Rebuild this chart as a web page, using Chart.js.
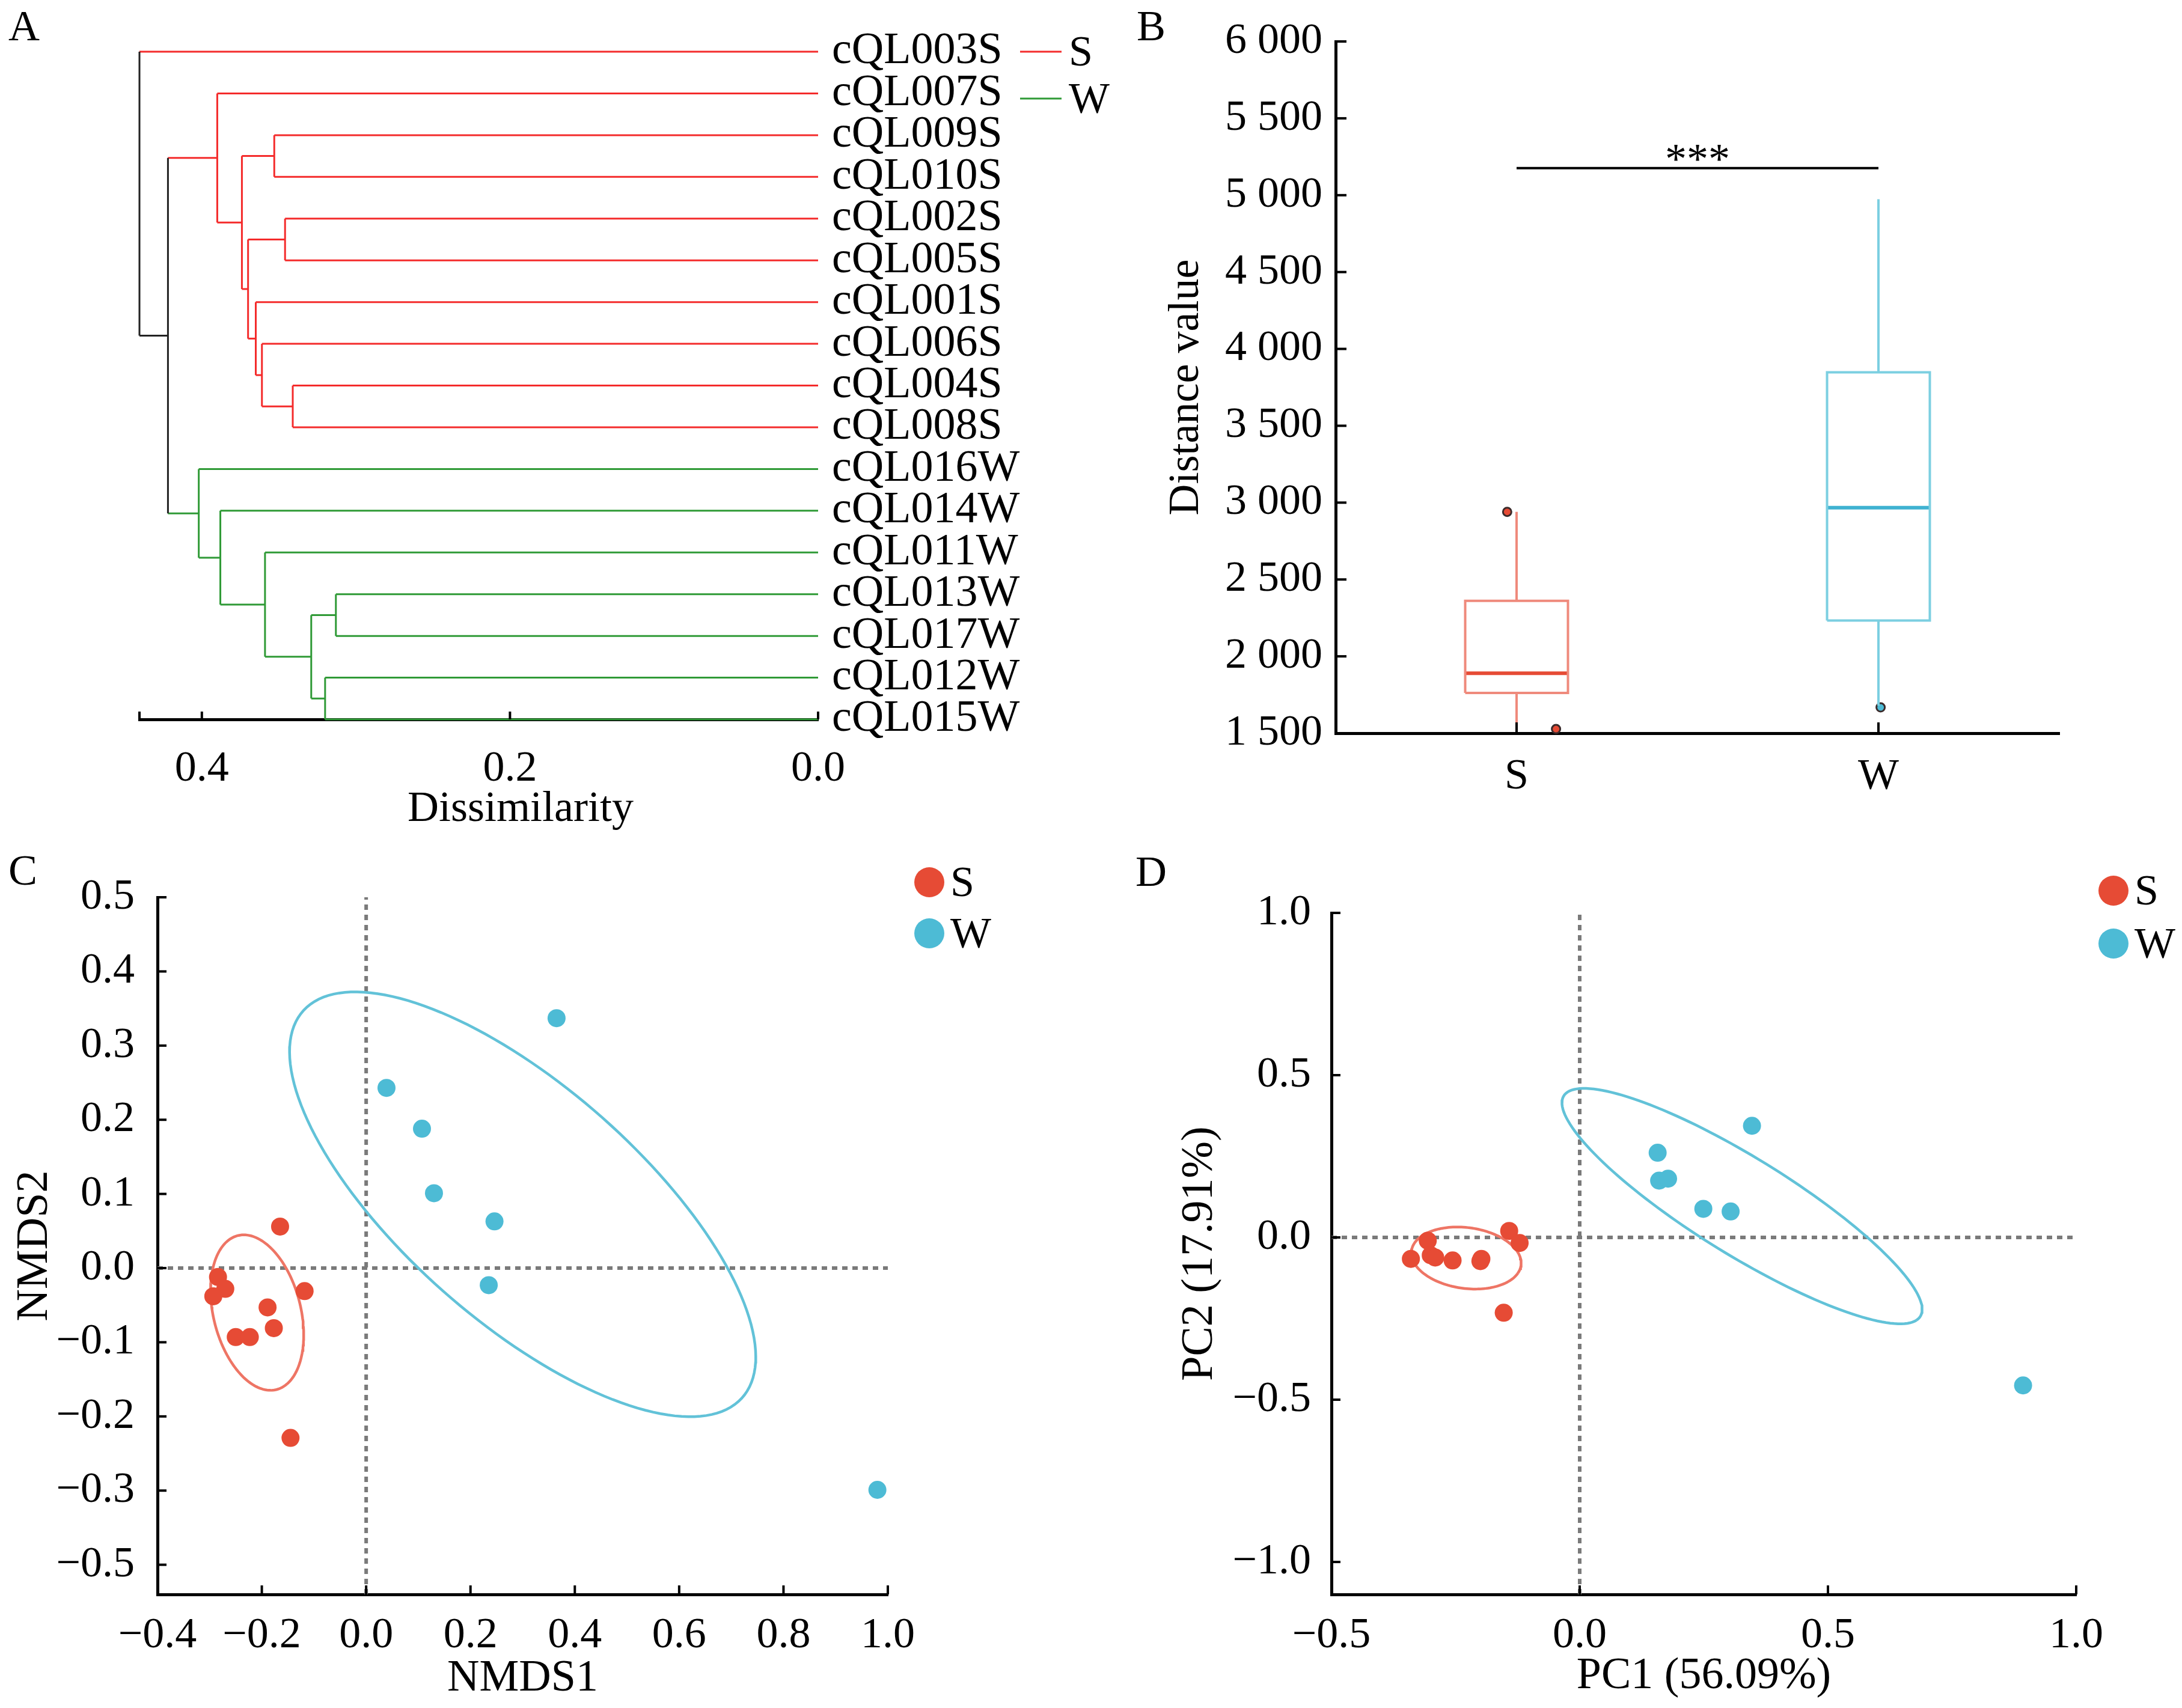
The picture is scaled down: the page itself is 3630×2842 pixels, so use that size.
<!DOCTYPE html>
<html>
<head>
<meta charset="utf-8">
<title>S / W clustering and ordination</title>
<script src="https://cdn.jsdelivr.net/npm/chart.js@4.4.0/dist/chart.umd.min.js"></script>
<style>
  body { margin: 0; background: #fff; }
  #page { position: relative; width: 3630px; height: 2842px; overflow: hidden; background: #fff; }
  canvas { position: absolute; }
  .tag { position: absolute; font-family: "Liberation Serif", serif; font-size: 72px; line-height: 1; color: #000; }
</style>
</head>
<body>
<div id="page">
  <canvas id="cA" width="1850" height="1400" style="left:0;top:0"></canvas>
  <canvas id="cB" width="1750" height="1400" style="left:1880px;top:0"></canvas>
  <canvas id="cC" width="1850" height="1442" style="left:0;top:1400px"></canvas>
  <canvas id="cD" width="1780" height="1442" style="left:1850px;top:1400px"></canvas>
  <div class="tag" style="left:14px;top:7px">A</div>
  <div class="tag" style="left:1891px;top:7px">B</div>
  <div class="tag" style="left:14px;top:1412px">C</div>
  <div class="tag" style="left:1889px;top:1414px">D</div>
</div>
<script>
// ---------- data ----------
const groups = ['S', 'W'];

// A: dendrogram (leaf order top to bottom, merges as [child, child, height];
// leaves are 0..16, merge k becomes node 17 + k)
const leafLabels = ['cQL003S', 'cQL007S', 'cQL009S', 'cQL010S', 'cQL002S', 'cQL005S', 'cQL001S',
  'cQL006S', 'cQL004S', 'cQL008S', 'cQL016W', 'cQL014W', 'cQL011W', 'cQL013W', 'cQL017W',
  'cQL012W', 'cQL015W'];
const merges = [
  [2, 3, 0.353],    // 17
  [4, 5, 0.346],    // 18
  [8, 9, 0.341],    // 19
  [7, 19, 0.361],   // 20
  [6, 20, 0.365],   // 21
  [18, 21, 0.370],  // 22
  [17, 22, 0.374],  // 23
  [1, 23, 0.390],   // 24
  [13, 14, 0.313],  // 25
  [15, 16, 0.320],  // 26
  [25, 26, 0.329],  // 27
  [12, 27, 0.359],  // 28
  [11, 28, 0.388],  // 29
  [10, 29, 0.402],  // 30
  [24, 30, 0.422],  // 31
  [0, 31, 0.4405]   // 32
];
const dissimTicks = [0.4, 0.2, 0.0];
const dissimLabels = ['0.4', '0.2', '0.0'];

// B: distance boxplot
const boxQ1 = [1762, 2233];
const boxMedian = [1890, 2967];
const boxQ3 = [2361, 3848];
const boxLow = [1500, 1679];
const boxHigh = [2940, 4974];
const outlierGroup = [0, 0, 1];
const outlierShift = [-0.026, 0.109, 0.006];
const outlierValue = [2940, 1527, 1668];
const sigLevel = 5176;
const sigText = '***';
const distTicks = [1500, 2000, 2500, 3000, 3500, 4000, 4500, 5000, 5500, 6000];
const distLabels = ['1 500', '2 000', '2 500', '3 000', '3 500', '4 000', '4 500', '5 000', '5 500', '6 000'];

// C: NMDS
const nmds1S = [-0.165, -0.284, -0.270, -0.293, -0.118, -0.189, -0.177, -0.250, -0.223, -0.145];
const nmds2S = [0.056, -0.012, -0.028, -0.038, -0.031, -0.053, -0.081, -0.093, -0.093, -0.229];
const nmds1W = [0.365, 0.039, 0.107, 0.130, 0.246, 0.235, 0.980];
const nmds2W = [0.337, 0.243, 0.188, 0.101, 0.063, -0.023, -0.299];
const nmdsEllS = [-0.209, -0.060, 0.112, 0.080, -59.7];   // centre x, centre y, semi-axes, angle
const nmdsEllW = [0.300, 0.086, 0.500, 0.178, -28.7];
const nmdsXTicks = [-0.4, -0.2, 0, 0.2, 0.4, 0.6, 0.8, 1.0];
const nmdsXLabels = ['\u22120.4', '\u22120.2', '0.0', '0.2', '0.4', '0.6', '0.8', '1.0'];
const nmdsYTicks = [-0.4, -0.3, -0.2, -0.1, 0, 0.1, 0.2, 0.3, 0.4, 0.5];
const nmdsYLabels = ['\u22120.5', '\u22120.3', '\u22120.2', '\u22120.1', '0.0', '0.1', '0.2', '0.3', '0.4', '0.5'];

// D: PCoA
const pc1S = [-0.340, -0.306, -0.300, -0.291, -0.256, -0.198, -0.200, -0.142, -0.121, -0.153];
const pc2S = [-0.066, -0.010, -0.055, -0.062, -0.071, -0.066, -0.073, 0.020, -0.017, -0.232];
const pc1W = [0.347, 0.157, 0.160, 0.178, 0.249, 0.304, 0.893];
const pc2W = [0.344, 0.261, 0.175, 0.181, 0.088, 0.080, -0.456];
const pcEllS = [-0.2285, -0.0635, 0.114, 0.0915, -24];
const pcEllW = [0.327, 0.0965, 0.497, 0.127, -45];
const pcXTicks = [-0.5, 0, 0.5, 1.0];
const pcXLabels = ['\u22120.5', '0.0', '0.5', '1.0'];
const pcYTicks = [-1.0, -0.5, 0, 0.5, 1.0];
const pcYLabels = ['\u22121.0', '\u22120.5', '0.0', '0.5', '1.0'];

// ---------- styling ----------
const FONT = '"Liberation Serif", "Times New Roman", serif';
Chart.defaults.font.family = FONT;
Chart.defaults.color = '#000';
const treeColor = { S: '#f42b2b', W: '#2f9a36', mix: '#222222' };
const dotColor = ['#e64b35', '#4dbbd5'];
const boxLine = ['#ef8a7c', '#7ccfe1'];
const boxMid = ['#e64b35', '#3fb2d1'];
const ellColor = ['#ee7565', '#62c2d8'];

// inward tick marks
const inTicks = {
  id: 'inTicks',
  afterDatasetsDraw(chart, args, o) {
    if (!o.axes) return;
    const ctx = chart.ctx, L = o.len || 15;
    ctx.save();
    ctx.strokeStyle = '#000';
    ctx.lineWidth = o.width || 4;
    o.axes.forEach(id => {
      const s = chart.scales[id];
      let vals = s.ticks.map(t => t.value);
      if (o.ends) vals = vals.concat([s.min, s.max]);
      vals.forEach(v => {
        const p = s.getPixelForValue(v);
        ctx.beginPath();
        if (s.isHorizontal()) { ctx.moveTo(p, s.top); ctx.lineTo(p, s.top - L); }
        else { ctx.moveTo(s.right, p); ctx.lineTo(s.right + L, p); }
        ctx.stroke();
      });
    });
    ctx.restore();
  }
};

// legends and free text
const keyPlugin = {
  id: 'key',
  afterDraw(chart, args, o) {
    const ctx = chart.ctx;
    ctx.save();
    ctx.fillStyle = '#000';
    (o.items || []).forEach(it => {
      if (it.kind === 'line') {
        ctx.strokeStyle = it.color; ctx.lineWidth = 3;
        ctx.beginPath(); ctx.moveTo(it.x, it.y); ctx.lineTo(it.x + 69, it.y); ctx.stroke();
        ctx.font = '72px ' + FONT; ctx.textBaseline = 'middle'; ctx.textAlign = 'left';
        ctx.fillStyle = '#000';
        ctx.fillText(it.label, it.x + 81, it.y + 4);
      } else {
        ctx.fillStyle = it.color;
        ctx.beginPath(); ctx.arc(it.x, it.y, it.r, 0, Math.PI * 2); ctx.fill();
        ctx.font = '72px ' + FONT; ctx.textBaseline = 'middle'; ctx.textAlign = 'left';
        ctx.fillStyle = '#000';
        ctx.fillText(it.label, it.x + it.r + 10, it.y + 4);
      }
    });
    (o.texts || []).forEach(t => {
      let x = t.x, y = t.y;
      if (t.xv !== undefined) x = chart.scales.x.getPixelForValue(t.xv);
      if (t.yv !== undefined) y = chart.scales.y.getPixelForValue(t.yv) + (t.dy || 0);
      ctx.font = t.size + 'px ' + FONT;
      ctx.textAlign = 'center';
      ctx.textBaseline = t.base || 'middle';
      ctx.fillStyle = '#000';
      ctx.fillText(t.text, x, y);
    });
    ctx.restore();
  }
};
Chart.register(inTicks, keyPlugin);

function axis(extra) {
  const base = {
    border: { display: true, width: 5, color: '#000' },
    grid: { display: false, drawTicks: false },
    ticks: { font: { size: 72 }, color: '#000', autoSkip: false, maxRotation: 0 }
  };
  const out = Object.assign({}, base, extra);
  out.ticks = Object.assign({}, base.ticks, extra.ticks || {});
  return out;
}
function tickSetter(vals) { return s => { s.ticks = vals.map(v => ({ value: v })); }; }
function line(pts, color, width, extra) {
  return Object.assign({ data: pts, showLine: true, pointRadius: 0, borderColor: color,
    borderWidth: width, clip: false, tension: 0 }, extra || {});
}
const baseOpts = { responsive: false, devicePixelRatio: 1, animation: false, events: [] };

// ---------- A: dendrogram ----------
const nodeY = leafLabels.map((_, i) => i);
const nodeH = leafLabels.map(() => 0);
const nodeG = leafLabels.map(l => l.slice(-1));
const treeSets = [];
merges.forEach(([a, b, h]) => {
  const g = nodeG[a] === nodeG[b] ? nodeG[a] : 'mix';
  treeSets.push(line([{ x: h, y: nodeY[a] }, { x: h, y: nodeY[b] }], treeColor[g], 3));
  treeSets.push(line([{ x: h, y: nodeY[a] }, { x: nodeH[a], y: nodeY[a] }], treeColor[nodeG[a]], 3));
  treeSets.push(line([{ x: h, y: nodeY[b] }, { x: nodeH[b], y: nodeY[b] }], treeColor[nodeG[b]], 3));
  nodeY.push((nodeY[a] + nodeY[b]) / 2);
  nodeH.push(h);
  nodeG.push(g);
});
const rootH = merges[merges.length - 1][2];

new Chart(document.getElementById('cA'), {
  type: 'scatter',
  data: { datasets: treeSets },
  options: Object.assign({}, baseOpts, {
    layout: { padding: { left: 232, top: 86, right: 0, bottom: 9 } },
    plugins: {
      legend: { display: false }, tooltip: { enabled: false },
      inTicks: { axes: ['x'], len: 13, ends: true },
      key: {
        items: groups.map((g, i) => ({ kind: 'line', label: g, color: treeColor[g], x: 1697, y: 86 + i * 78 })),
        texts: [{ text: 'Dissimilarity', x: 866, y: 1347, size: 72 }]
      }
    },
    scales: {
      x: axis({
        type: 'linear', reverse: true, min: 0, max: rootH,
        afterBuildTicks: tickSetter(dissimTicks),
        afterFit: s => { s.height = 194; },
        ticks: { padding: 40, callback: (v, i) => dissimLabels[i] }
      }),
      y: axis({
        type: 'linear', position: 'right', reverse: true, min: 0, max: leafLabels.length - 1,
        border: { display: false },
        afterBuildTicks: tickSetter(leafLabels.map((_, i) => i)),
        afterFit: s => { s.width = 489; },
        ticks: { padding: 23, font: { size: 74 }, callback: (v, i) => leafLabels[i] }
      })
    }
  })
});

// ---------- B: boxplot ----------
const half = 0.142;
const boxSets = [];
groups.forEach((g, i) => {
  boxSets.push(line([{ x: i, y: boxQ3[i] }, { x: i, y: boxHigh[i] }], boxLine[i], 4));
  boxSets.push(line([{ x: i, y: boxQ1[i] }, { x: i, y: boxLow[i] }], boxLine[i], 4));
  boxSets.push(line([
    { x: i - half, y: boxQ1[i] }, { x: i + half, y: boxQ1[i] }, { x: i + half, y: boxQ3[i] },
    { x: i - half, y: boxQ3[i] }, { x: i - half, y: boxQ1[i] }], boxLine[i], 4));
  boxSets.push(line([{ x: i - half, y: boxMedian[i] }, { x: i + half, y: boxMedian[i] }], boxMid[i], 6));
});
boxSets.push({
  data: outlierValue.map((v, k) => ({ x: outlierGroup[k] + outlierShift[k], y: v })),
  pointRadius: 7, pointBorderWidth: 3, pointBorderColor: '#3b2b2b',
  pointBackgroundColor: outlierGroup.map(k => dotColor[k]), clip: false
});
boxSets.push(line([{ x: 0, y: sigLevel }, { x: 1, y: sigLevel }], '#000', 4));

new Chart(document.getElementById('cB'), {
  type: 'scatter',
  data: { datasets: boxSets },
  options: Object.assign({}, baseOpts, {
    layout: { padding: { left: 0, top: 69, right: 204, bottom: 0 } },
    plugins: {
      legend: { display: false }, tooltip: { enabled: false },
      inTicks: { axes: ['x', 'y'], len: 18 },
      key: { texts: [{ text: sigText, xv: 0.5, yv: sigLevel, dy: 8, size: 72, base: 'alphabetic' }] }
    },
    scales: {
      x: axis({
        type: 'linear', min: -0.5, max: 1.5,
        afterBuildTicks: tickSetter(groups.map((_, i) => i)),
        afterFit: s => { s.height = 180; },
        ticks: { padding: 30, callback: (v, i) => groups[i] }
      }),
      y: axis({
        type: 'linear', min: 1500, max: 6000,
        afterBuildTicks: tickSetter(distTicks),
        afterFit: s => { s.width = 342; },
        ticks: { padding: 22, callback: (v, i) => distLabels[i] },
        title: { display: true, text: 'Distance value', font: { size: 72 }, padding: { top: 51, bottom: 0 } }
      })
    }
  })
});

// ---------- C / D: ordination ----------
function ellipse([cx, cy, a, b, deg]) {
  const th = deg * Math.PI / 180, pts = [];
  for (let k = 0; k <= 160; k++) {
    const t = 2 * Math.PI * k / 160;
    pts.push({
      x: cx + a * Math.cos(t) * Math.cos(th) - b * Math.sin(t) * Math.sin(th),
      y: cy + a * Math.cos(t) * Math.sin(th) + b * Math.sin(t) * Math.cos(th)
    });
  }
  return pts;
}
function ordination(id, c) {
  const dash = { borderDash: [9, 8], order: 3 };
  const sets = [
    line([{ x: 0, y: c.yMin }, { x: 0, y: c.yMax }], '#7a7a7a', 6, dash),
    line([{ x: c.xMin, y: 0 }, { x: c.xMax, y: 0 }], '#7a7a7a', 6, dash),
    line(ellipse(c.ellS), ellColor[0], 4.5, { order: 2 }),
    line(ellipse(c.ellW), ellColor[1], 4.5, { order: 2 }),
    { data: c.sx.map((v, k) => ({ x: v, y: c.sy[k] })), pointRadius: 15, pointBorderWidth: 0,
      pointBackgroundColor: dotColor[0], order: 1, clip: false },
    { data: c.wx.map((v, k) => ({ x: v, y: c.wy[k] })), pointRadius: 15, pointBorderWidth: 0,
      pointBackgroundColor: dotColor[1], order: 0, clip: false }
  ];
  new Chart(document.getElementById(id), {
    type: 'scatter',
    data: { datasets: sets },
    options: Object.assign({}, baseOpts, {
      layout: { padding: c.pad },
      plugins: {
        legend: { display: false }, tooltip: { enabled: false },
        inTicks: { axes: ['x', 'y'], len: 15 },
        key: { items: groups.map((g, i) => ({ kind: 'dot', label: g, color: dotColor[i], x: c.keyX, y: c.keyY + i * c.keyGap, r: 25 })) }
      },
      scales: {
        x: axis({
          type: 'linear', min: c.xMin, max: c.xMax,
          afterBuildTicks: tickSetter(c.xTicks),
          afterFit: s => { s.height = 189; },
          ticks: { padding: 26, callback: (v, i) => c.xLabels[i] },
          title: { display: true, text: c.xTitle, font: { size: 74 }, padding: { top: 0, bottom: c.xtPad } }
        }),
        y: axis({
          type: 'linear', min: c.yMin, max: c.yMax,
          afterBuildTicks: tickSetter(c.yTicks),
          afterFit: s => { s.width = c.yWidth; },
          ticks: { padding: c.ytickPad, callback: (v, i) => c.yLabels[i] },
          title: { display: true, text: c.yTitle, font: { size: 74 }, padding: { top: c.ytPad, bottom: 0 } }
        })
      }
    })
  });
}

ordination('cC', {
  sx: nmds1S, sy: nmds2S, wx: nmds1W, wy: nmds2W, ellS: nmdsEllS, ellW: nmdsEllW,
  xMin: -0.4, xMax: 1.0, yMin: -0.44, yMax: 0.5,
  xTicks: nmdsXTicks, xLabels: nmdsXLabels, yTicks: nmdsYTicks, yLabels: nmdsYLabels,
  xTitle: 'NMDS1', yTitle: 'NMDS2',
  pad: { left: 0, top: 93, right: 373, bottom: 0 }, yWidth: 262, ytickPad: 38, xtPad: 4, ytPad: 14,
  keyX: 1546, keyY: 68, keyGap: 85
});

ordination('cD', {
  sx: pc1S, sy: pc2S, wx: pc1W, wy: pc2W, ellS: pcEllS, ellW: pcEllW,
  xMin: -0.5, xMax: 1.0, yMin: -1.1, yMax: 1.0,
  xTicks: pcXTicks, xLabels: pcXLabels, yTicks: pcYTicks, yLabels: pcYLabels,
  xTitle: 'PC1 (56.09%)', yTitle: 'PC2 (17.91%)',
  pad: { left: 0, top: 119, right: 176, bottom: 0 }, yWidth: 365, ytickPad: 34, xtPad: 8, ytPad: 102,
  keyX: 1666, keyY: 82, keyGap: 88
});
</script>
</body>
</html>
